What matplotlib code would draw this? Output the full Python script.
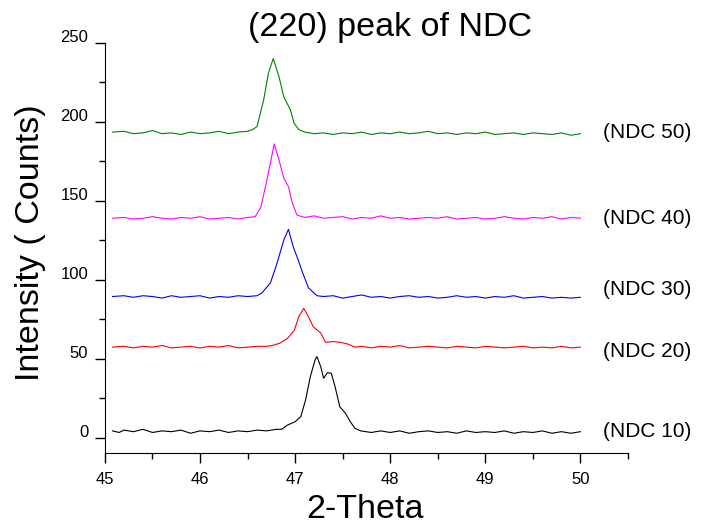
import numpy as np
import matplotlib
matplotlib.use('Agg')
import matplotlib.pyplot as plt
import matplotlib.transforms as mtransforms

plt.rcParams['font.family'] = ['Liberation Sans', 'DejaVu Sans']

# Datos (2-Theta, Intensidad)
x10 = [45.08, 45.15, 45.2, 45.3, 45.4, 45.5, 45.6, 45.7, 45.8, 45.9, 46.0, 46.1, 46.2, 46.3,
       46.4, 46.5, 46.6, 46.7, 46.8, 46.86, 46.92, 47.0, 47.06, 47.11, 47.16, 47.21, 47.23,
       47.27, 47.30, 47.34, 47.38, 47.42, 47.47, 47.53, 47.58, 47.63, 47.69, 47.8, 47.9,
       48.0, 48.1, 48.2, 48.3, 48.4, 48.5, 48.6, 48.7, 48.8, 48.9, 49.0, 49.1, 49.2, 49.3,
       49.4, 49.5, 49.6, 49.7, 49.8, 49.9, 50.0]
y10 = [4.5, 3.5, 5.0, 4.0, 5.5, 3.5, 4.5, 4.0, 5.0, 3.0, 4.5, 4.0, 5.0, 3.5,
       4.5, 4.0, 5.0, 4.5, 5.5, 5.5, 8.2, 10.3, 13.5, 24.0, 38.8, 49.4, 51.5,
       45.0, 37.8, 41.3, 41.0, 32.5, 19.8, 15.6, 10.3, 6.1, 4.5, 3.5, 4.5,
       3.5, 4.5, 3.0, 4.0, 4.5, 3.5, 4.0, 3.0, 4.5, 3.5, 4.0, 3.5, 4.5, 3.0,
       4.0, 3.5, 4.5, 3.0, 4.0, 3.0, 4.0]

x20 = [45.08, 45.2, 45.3, 45.4, 45.5, 45.6, 45.7, 45.8, 45.9, 46.0, 46.1, 46.2, 46.3, 46.4,
       46.5, 46.6, 46.7, 46.76, 46.84, 46.92, 46.99, 47.04, 47.09, 47.11, 47.14, 47.19,
       47.27, 47.32, 47.40, 47.48, 47.55, 47.63, 47.7, 47.8, 47.9, 48.0, 48.1, 48.2, 48.3,
       48.4, 48.5, 48.6, 48.7, 48.8, 48.9, 49.0, 49.1, 49.2, 49.3, 49.4, 49.5, 49.6, 49.7,
       49.8, 49.9, 50.0]
y20 = [57.5, 58.0, 57.0, 58.0, 57.5, 58.5, 57.0, 57.5, 58.0, 57.0, 58.0, 57.5, 58.5, 57.0,
       57.5, 58.0, 58.0, 58.5, 60.0, 63.0, 68.0, 76.8, 82.0, 80.0, 76.8, 70.4,
       66.4, 60.5, 61.0, 60.5, 59.5, 57.5, 58.0, 57.0, 58.0, 57.5, 58.5, 57.0, 57.5,
       58.0, 57.5, 57.0, 58.0, 57.5, 57.0, 58.0, 57.5, 57.0, 57.5, 58.0, 57.0, 57.5, 57.0,
       58.0, 57.0, 57.5]

x30 = [45.08, 45.2, 45.3, 45.4, 45.5, 45.6, 45.7, 45.8, 45.9, 46.0, 46.1, 46.2, 46.3, 46.4,
       46.5, 46.6, 46.65, 46.74, 46.81, 46.88, 46.93, 46.98, 47.03, 47.07, 47.14, 47.23,
       47.3, 47.4, 47.5, 47.6, 47.7, 47.8, 47.9, 48.0, 48.1, 48.2, 48.3, 48.4, 48.5, 48.6,
       48.7, 48.8, 48.9, 49.0, 49.1, 49.2, 49.3, 49.4, 49.5, 49.6, 49.7, 49.8, 49.9, 50.0]
y30 = [89.5, 90.0, 89.0, 90.0, 89.5, 88.5, 90.0, 89.0, 89.5, 90.0, 88.5, 89.5, 89.0, 90.0,
       89.5, 90.0, 91.7, 98.0, 110.6, 125.0, 132.0, 121.0, 113.0, 106.0, 95.0, 90.0,
       89.5, 90.0, 88.5, 89.5, 90.5, 89.0, 89.5, 88.5, 89.5, 90.0, 89.0, 89.5, 88.5, 89.0,
       90.0, 89.0, 89.5, 88.5, 89.5, 89.0, 90.0, 88.5, 89.0, 89.5, 88.5, 89.0, 88.5, 89.0]

x40 = [45.08, 45.2, 45.3, 45.4, 45.5, 45.6, 45.7, 45.8, 45.9, 46.0, 46.1, 46.2, 46.3, 46.4,
       46.5, 46.58, 46.64, 46.71, 46.76, 46.78, 46.83, 46.88, 46.93, 46.97, 47.02, 47.1,
       47.2, 47.3, 47.4, 47.5, 47.6, 47.7, 47.8, 47.9, 48.0, 48.1, 48.2, 48.3, 48.4, 48.5,
       48.6, 48.7, 48.8, 48.9, 49.0, 49.1, 49.2, 49.3, 49.4, 49.5, 49.6, 49.7, 49.8, 49.9, 50.0]
y40 = [139.0, 139.5, 138.5, 139.0, 140.0, 139.0, 138.5, 139.5, 139.0, 140.0, 138.5, 139.0, 139.5, 138.5,
       139.5, 140.0, 146.0, 165.0, 180.0, 186.0, 176.0, 164.6, 159.0, 148.7, 141.0, 139.5,
       140.5, 139.0, 139.5, 140.0, 138.5, 139.5, 139.0, 140.5, 139.0, 139.5, 138.5, 139.0, 139.5, 139.0,
       140.0, 138.5, 139.0, 139.5, 138.5, 139.0, 140.0, 139.0, 138.5, 139.5, 139.0, 140.0, 138.5, 139.5, 139.0]

x50 = [45.08, 45.2, 45.3, 45.4, 45.5, 45.6, 45.7, 45.8, 45.9, 46.0, 46.1, 46.2, 46.3, 46.4,
       46.5, 46.55, 46.60, 46.67, 46.72, 46.77, 46.83, 46.88, 46.95, 46.99, 47.04, 47.1,
       47.2, 47.3, 47.4, 47.5, 47.6, 47.7, 47.8, 47.9, 48.0, 48.1, 48.2, 48.3, 48.4, 48.5,
       48.6, 48.7, 48.8, 48.9, 49.0, 49.1, 49.2, 49.3, 49.4, 49.5, 49.6, 49.7, 49.8, 49.9, 50.0]
y50 = [193.5, 194.0, 192.5, 193.0, 194.5, 192.5, 193.0, 192.0, 193.5, 192.5, 193.0, 194.0, 192.5, 193.5,
       194.0, 195.0, 197.0, 214.0, 231.0, 240.0, 228.7, 216.0, 207.6, 199.0, 195.0, 193.5,
       192.5, 193.0, 192.0, 193.0, 192.5, 193.5, 192.0, 193.0, 192.5, 193.5, 192.5, 193.0, 194.0, 192.5,
       193.0, 192.0, 193.0, 192.5, 193.5, 192.0, 192.5, 193.0, 192.0, 193.0, 192.5, 192.0, 193.0, 191.5, 192.5]

series = [(x10, y10, 'black', '(NDC 10)', 4),
          (x20, y20, 'red', '(NDC 20)', 54.5),
          (x30, y30, 'blue', '(NDC 30)', 94),
          (x40, y40, 'magenta', '(NDC 40)', 139),
          (x50, y50, 'green', '(NDC 50)', 193)]

fig = plt.figure(figsize=(7.04, 5.28), dpi=100)
ax = fig.add_axes([0.149, 0.142, 0.743, 0.777])

for xs, ys, col, nombre, ypos in series:
    ax.plot(xs, ys, color=col, lw=0.8)
    ax.text(50.235, ypos, nombre, fontsize=15, va='center', ha='left')

ax.set_xlim(45, 50.5)
ax.set_ylim(-9.5, 250)
ax.set_xticks([45, 46, 47, 48, 49, 50])
ax.set_xticks(np.arange(45.5, 50.6, 1.0), minor=True)
ax.set_yticks([0, 50, 100, 150, 200, 250])
ax.set_yticks([25, 75, 125, 175, 225], minor=True)
ax.spines['top'].set_visible(False)
ax.spines['right'].set_visible(False)
ax.tick_params(which='major', direction='out', length=7, width=1, labelsize=12)
ax.tick_params(axis='y', which='major', pad=5)
ax.tick_params(axis='x', which='major', pad=7)
ax.tick_params(which='minor', direction='out', length=4, width=1)

# etiquetas del eje y un poco mas arriba, como en el original
off = mtransforms.ScaledTranslation(0, 4.7/72, fig.dpi_scale_trans)
for lab in ax.get_yticklabels():
    lab.set_transform(lab.get_transform() + off)

ax.set_title('(220) peak of NDC', fontsize=24.5, pad=1, x=0.545)
ax.set_xlabel('2-Theta', fontsize=24.5)
ax.xaxis.set_label_coords(0.497, -0.1)
ax.set_ylabel('Intensity ( Counts)', fontsize=24.5)
ax.yaxis.set_label_coords(-0.113, 0.512)

plt.savefig('out.png', dpi=100)
